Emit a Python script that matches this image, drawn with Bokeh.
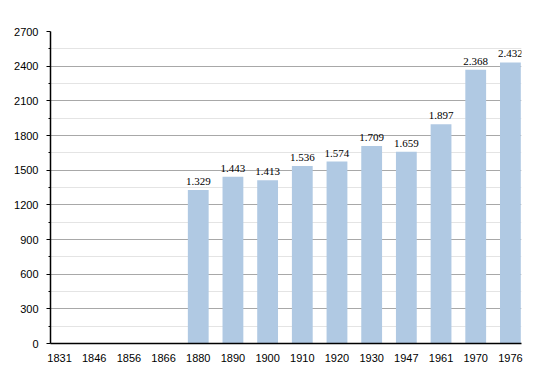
from bokeh.plotting import figure
from bokeh.models import ColumnDataSource, FixedTicker, Range1d, LabelSet
from bokeh.embed import file_html
from bokeh.resources import INLINE

years = ["1831", "1846", "1856", "1866", "1880", "1890", "1900", "1910",
         "1920", "1930", "1947", "1961", "1970", "1976"]
population = [None, None, None, None, 1329, 1443, 1413, 1536, 1574, 1709,
              1659, 1897, 2368, 2432]
y_ticks = [0, 300, 600, 900, 1200, 1500, 1800, 2100, 2400, 2700]
y_minor = [150, 450, 750, 1050, 1350, 1650, 1950, 2250, 2550]

xs, ys, labels = [], [], []
for i, v in enumerate(population):
    if v is not None:
        xs.append(i)
        ys.append(v)
        labels.append(f"{v:,}".replace(",", "."))
src = ColumnDataSource(dict(x=xs, y=ys, label=labels))

FONT = "Liberation Sans"
FS = "11px"

p = figure(width=550, height=373, output_backend="svg", toolbar_location=None,
           x_range=Range1d(-0.26, len(years) - 1 + 0.32),
           y_range=Range1d(0, 2700),
           min_border_left=50, min_border_right=29,
           min_border_top=31, min_border_bottom=30)
p.outline_line_color = None
p.background_fill_color = "white"

p.vbar(x="x", top="y", width=0.6, source=src, fill_color="#b0c9e3",
       line_color=None)

lbl = LabelSet(x="x", y="y", text="label", source=src, text_align="center",
               text_baseline="alphabetic", y_offset=5,
               text_font=FONT, text_font_size=FS, text_color="black")
p.add_layout(lbl)

# x axis
p.xaxis.ticker = FixedTicker(ticks=list(range(len(years))))
p.xaxis.major_label_overrides = {i: y for i, y in enumerate(years)}
p.xaxis.major_tick_line_color = None
p.xaxis.minor_tick_line_color = None
p.xaxis.axis_line_color = "black"
p.xaxis.axis_line_width = 1.5
p.xaxis.major_label_standoff = 4
p.xaxis.major_label_text_font = FONT
p.xaxis.major_label_text_font_size = FS
p.xaxis.major_label_text_color = "black"
p.xgrid.grid_line_color = None

# y axis
p.yaxis.ticker = FixedTicker(ticks=y_ticks, minor_ticks=y_minor)
p.yaxis.axis_line_color = "black"
p.yaxis.axis_line_width = 1.5
p.yaxis.major_tick_line_color = "black"
p.yaxis.major_tick_out = 4
p.yaxis.major_tick_in = 0
p.yaxis.minor_tick_line_color = "black"
p.yaxis.minor_tick_out = 2
p.yaxis.minor_tick_in = 0
p.yaxis.major_label_standoff = 8
p.yaxis.major_label_text_font = FONT
p.yaxis.major_label_text_font_size = FS
p.yaxis.major_label_text_color = "black"

p.ygrid.grid_line_color = "#a8a8a8"
p.ygrid.grid_line_width = 1
p.ygrid.minor_grid_line_color = "#e4e4e4"
p.ygrid.minor_grid_line_width = 1

open("out.html", "w").write(file_html(p, INLINE))
